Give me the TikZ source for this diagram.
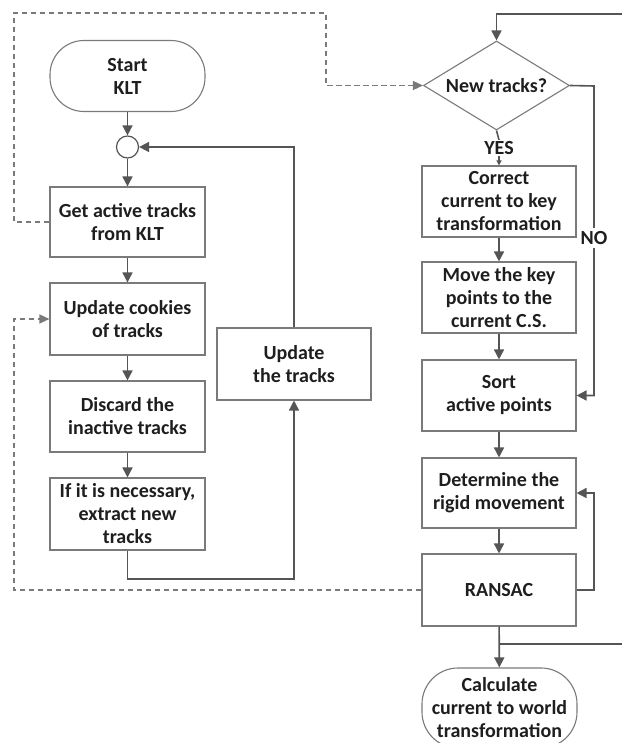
\documentclass[tikz,border=0pt]{standalone}
\usepackage{fontspec}
\setmainfont{Carlito}
\usetikzlibrary{arrows.meta,shapes.geometric}
\definecolor{ln}{HTML}{555555}
\definecolor{bd}{HTML}{7A7A7A}
\definecolor{tx}{HTML}{1E1E1E}
\tikzset{
  box/.style={draw=bd,line width=1.1pt,rectangle,minimum width=155pt,align=center,text=tx,font=\fontsize{20}{23}\selectfont\bfseries,inner sep=1pt},
  stad/.style={box,rounded corners=34pt},
  conn/.style={draw=ln,line width=1.6pt,-{Triangle[length=10pt,width=10pt]}},
  plain/.style={draw=ln,line width=1.6pt},
  dashln/.style={draw=bd,line width=1.4pt,dash pattern=on 5.5pt off 3.5pt,-{Triangle[length=10pt,width=9pt]}},
  lbl/.style={fill=white,text=tx,font=\fontsize{20}{21}\selectfont\bfseries,inner sep=1pt}
}
\begin{document}
\begin{tikzpicture}[x=1pt,y=-1pt]
\useasboundingbox (0,0) rectangle (622,743);
\clip (0,0) rectangle (622,743);
% left column
\node[stad,minimum height=71pt] (start) at (127.5,76) {Start\\KLT};
\node[draw=ln,line width=1.2pt,circle,minimum size=22pt,inner sep=0pt] (circ) at (127.5,147) {};
\node[box,minimum height=70pt] (get) at (127.5,222) {Get active tracks\\from KLT};
\node[box,minimum height=72pt] (upd) at (127.5,319) {Update cookies\\of tracks};
\node[box,minimum height=71pt] (disc) at (127.5,416.5) {Discard the\\inactive tracks};
\node[box,minimum height=72pt] (ifn) at (127.5,514) {If it is necessary,\\extract new\\tracks};
\node[box,minimum height=72pt,minimum width=154pt] (updt) at (294,364) {Update\\the tracks};
% right column
\node[draw=bd,line width=1.1pt,diamond,aspect=1.64,minimum width=146pt,minimum height=89pt,inner sep=0pt,text=tx,font=\fontsize{20}{23}\selectfont\bfseries] (dia) at (496.5,85.5) {New tracks?};
\node[box,minimum width=154pt,minimum height=71pt] (corr) at (499,201.5) {Correct\\current to key\\transformation};
\node[box,minimum width=154pt,minimum height=71pt] (move) at (499,297.5) {Move the key\\points to the\\current C.S.};
\node[box,minimum width=154pt,minimum height=71pt] (sort) at (499,395.5) {Sort\\active points};
\node[box,minimum width=154pt,minimum height=70pt] (det) at (499,493) {Determine the\\rigid movement};
\node[box,minimum width=154pt,minimum height=72pt] (ran) at (499,590) {RANSAC};
\node[stad,minimum width=155pt,minimum height=80pt,rounded corners=36pt] (calc) at (499.5,708) {Calculate\\current to world\\transformation};
% coordinates
\coordinate (tl) at (14,13);
\coordinate (tm) at (326,13);
\coordinate (bl) at (14,590);
\coordinate (lb) at (294,579);
\coordinate (nr) at (594,86);
\coordinate (rr) at (594,590);
\coordinate (te) at (622,14);
\coordinate (br) at (499,644);
\coordinate (be) at (622,644);
% left connectors
\draw[conn] (start) -- (circ);
\draw[conn] (circ) -- (get);
\draw[conn] (get) -- (upd);
\draw[conn] (upd) -- (disc);
\draw[conn] (disc) -- (ifn);
\draw[conn] (ifn.south) |- (lb) -- (updt.south);
\draw[conn] (updt.north) |- (circ.east);
% right connectors
\draw[conn] (te) -| (dia.north);
\draw[plain] (dia.south) -- (corr.north |- 0,140);
\node[lbl] (yes) at (499,148) {YES};
\draw[draw=ln,line width=1.2pt,-{Triangle[length=5pt,width=5pt]}] (yes.south) -- (corr.north);
\draw[conn] (dia.east) -- (nr) -- (rr |- sort.east) -- (sort.east);
\node[lbl,inner sep=3pt] (no) at (594,238) {NO};
\draw[conn] (corr) -- (move);
\draw[conn] (move) -- (sort);
\draw[conn] (sort) -- (det);
\draw[conn] (det) -- (ran);
\draw[conn] (ran.east) -- (rr) |- (det.east);
\draw[conn] (ran) -- (calc);
\draw[plain] (br) -- (be);
% dashed feedback
\draw[dashln] (get.west) -| (tl) -- (tm) |- (dia.west);
\draw[dashln] (ran.west) -- (bl) |- (upd.west);
\end{tikzpicture}
\end{document}
